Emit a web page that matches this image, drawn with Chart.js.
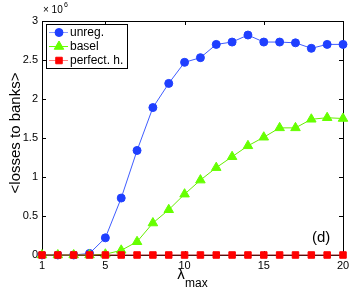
<!DOCTYPE html>
<html>
<head>
<meta charset="utf-8">
<script src="https://cdn.jsdelivr.net/npm/chart.js@4"></script>
<style>
  body{margin:0;background:#fff;}
  canvas{display:block;}
</style>
</head>
<body>
<canvas id="chart" width="354" height="290"></canvas>
<script>
// lambda_max values
const lambdas = [1,2,3,4,5,6,7,8,9,10,11,12,13,14,15,16,17,18,19,20];
const xTicks = [1,5,10,15,20];
const yTicks = [0,0.5,1,1.5,2,2.5,3];
const yTickLabels = ['0','0.5','1','1.5','2','2.5','3'];
// <losses to banks>, in units of 10^6
const unreg = [0,0,0,0.02,0.22,0.73,1.34,1.89,2.20,2.47,2.53,2.70,2.73,2.82,2.73,2.73,2.72,2.65,2.70,2.70];
const basel = [0,0,0,0,0.01,0.06,0.17,0.41,0.58,0.78,0.96,1.12,1.26,1.40,1.51,1.63,1.63,1.74,1.76,1.75];
const perfect = [0,0,0,0,0,0,0,0,0,0,0,0,0,0,0,0,0,0,0,0];

const FONT = '"Liberation Sans", Arial, sans-serif';

function pts(arr){ return arr.map((v,i)=>({x:lambdas[i],y:v})); }

const series = [
  {label:'unreg.', data:unreg, line:'#3f5cff', fill:'#1f3fff', style:'circle', r:4, order:2, legendLine:'#8fa0ff'},
  {label:'basel', data:basel, line:'#66ee00', fill:'#66ff00', style:'triangle', r:5.5, order:1, legendLine:'#66ff00'},
  {label:'perfect. h.', data:perfect, line:'#a02424', fill:'#ff0000', style:'rect', r:4.6, order:0, legendLine:'#ff8080'}
];

// inward ticks, box, legend and extra text, matlab style
const decor = {
  id:'decor',
  beforeDatasetsDraw(chart){
    const {ctx, chartArea:a, scales:{x,y}} = chart;
    ctx.save();
    ctx.strokeStyle = '#000';
    ctx.lineWidth = 1;
    ctx.beginPath();
    ctx.rect(Math.round(a.left)+0.5, Math.round(a.top)+0.5, Math.round(a.right-a.left), Math.round(a.bottom-a.top));
    xTicks.forEach(v=>{
      const px = Math.round(x.getPixelForValue(v))+0.5;
      ctx.moveTo(px,a.bottom); ctx.lineTo(px,a.bottom-4);
      ctx.moveTo(px,a.top); ctx.lineTo(px,a.top+4);
    });
    yTicks.forEach(v=>{
      const py = Math.round(y.getPixelForValue(v))+0.5;
      ctx.moveTo(a.left,py); ctx.lineTo(a.left+4,py);
      ctx.moveTo(a.right,py); ctx.lineTo(a.right-4,py);
    });
    ctx.stroke();
    ctx.restore();
  },
  afterDraw(chart){
    const {ctx, chartArea:a} = chart;
    ctx.save();
    ctx.fillStyle = '#000';
    // exponent
    ctx.font = '10px '+FONT;
    ctx.textBaseline = 'alphabetic';
    ctx.textAlign = 'left';
    ctx.fillText('\u00d7 10', a.left+1, 13);
    ctx.font = '7px '+FONT;
    ctx.fillText('6', a.left+22, 7);
    // panel label
    ctx.font = '15px '+FONT;
    ctx.fillText('(d)', 312, 242);
    // x title
    ctx.font = '15px '+FONT;
    ctx.textAlign = 'center';
    ctx.fillText('\u03bb', 181, 279);
    ctx.font = '12px '+FONT;
    ctx.textAlign = 'left';
    ctx.fillText('max', 185, 287);
    // y title
    ctx.translate(20, 133);
    ctx.rotate(-Math.PI/2);
    ctx.font = '15px '+FONT;
    ctx.textAlign = 'center';
    ctx.fillText('<losses to banks>', 0, 0);
    ctx.restore();

    // legend
    ctx.save();
    const lx = 46, ly = 24, lw = 81, lh = 44;
    ctx.fillStyle = '#fff';
    ctx.fillRect(lx, ly, lw, lh);
    ctx.strokeStyle = '#000';
    ctx.lineWidth = 1;
    ctx.strokeRect(lx+0.5, ly+0.5, lw, lh);
    ctx.font = '12px '+FONT;
    ctx.textBaseline = 'middle';
    series.forEach((s,i)=>{
      const cy = 32.5 + i*14;
      ctx.strokeStyle = s.legendLine;
      ctx.beginPath(); ctx.moveTo(49,cy); ctx.lineTo(68,cy); ctx.stroke();
      ctx.fillStyle = s.fill;
      ctx.strokeStyle = s.fill;
      Chart.helpers.drawPoint(ctx, {pointStyle:s.style, radius:s.r, rotation:0, borderWidth:1}, 59, cy);
      ctx.fillStyle = '#000';
      ctx.fillText(s.label, 70, cy+0.5);
    });
    ctx.restore();
  }
};

new Chart(document.getElementById('chart'), {
  type:'line',
  data:{
    datasets: series.map(s=>({
      label:s.label,
      data:pts(s.data),
      borderColor:s.line,
      borderWidth:1,
      backgroundColor:s.fill,
      pointBackgroundColor:s.fill,
      pointBorderColor:s.fill,
      pointBorderWidth:1,
      pointStyle:s.style,
      pointRadius:s.r,
      order:s.order,
      tension:0,
      clip:false
    }))
  },
  options:{
    responsive:false,
    animation:false,
    events:[],
    layout:{padding:{top:21,right:11,left:0,bottom:0}},
    plugins:{legend:{display:false}, tooltip:{enabled:false}},
    scales:{
      x:{
        type:'linear', min:1, max:20,
        grid:{display:false, drawTicks:false},
        border:{display:false},
        afterBuildTicks(s){ s.ticks = xTicks.map(v=>({value:v})); },
        afterFit(s){ s.height = 35; },
        ticks:{padding:4, color:'#000', font:{family:FONT, size:11}, maxRotation:0, autoSkip:false}
      },
      y:{
        min:0, max:3,
        grid:{display:false, drawTicks:false},
        border:{display:false},
        afterBuildTicks(s){ s.ticks = yTicks.map(v=>({value:v})); },
        afterFit(s){ s.width = 42; },
        ticks:{padding:4, color:'#000', font:{family:FONT, size:11},
          callback:(v,i)=>yTickLabels[i]}
      }
    }
  },
  plugins:[decor]
});
</script>
</body>
</html>
